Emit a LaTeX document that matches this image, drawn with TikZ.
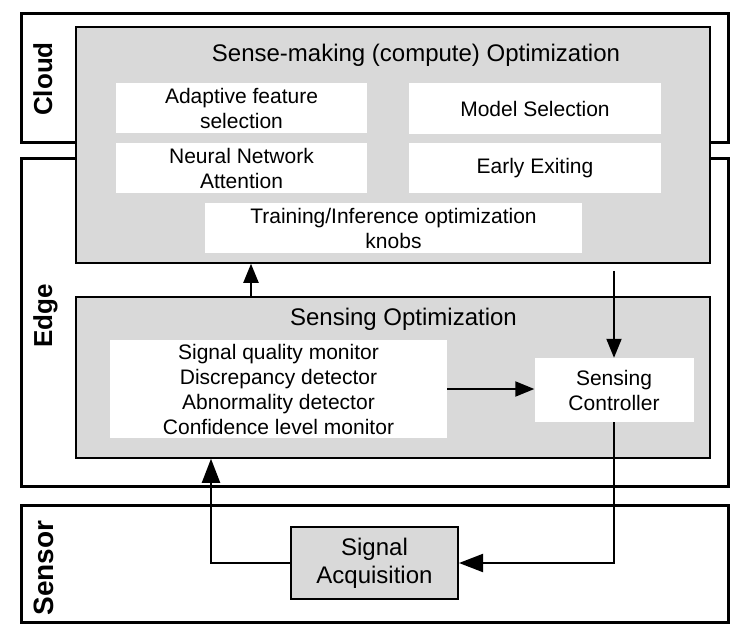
\documentclass[tikz,border=0pt]{standalone}
\usepackage{fontspec}
\setmainfont{Liberation Sans}
\usetikzlibrary{arrows.meta}

\definecolor{panelgray}{RGB}{217,217,217}

\tikzset{
	region/.style={draw,line width=3pt},
	panel/.style={draw,fill=panelgray,line width=1.5pt,inner sep=0pt},
	knob/.style={fill=white,align=center,inner sep=0pt,font=\fontsize{21}{25}\selectfont},
	tag/.style={rotate=90,anchor=base,font=\bfseries\fontsize{26}{30}\selectfont},
	title/.style={anchor=base,font=\fontsize{24}{28}\selectfont},
	flow/.style={line width=2pt,-{Triangle[length=19pt,width=15pt]}},
	bigtip/.style={-{Triangle[length=24pt,width=18pt]}}
}

\begin{document}
\begin{tikzpicture}[x=1pt,y=-1pt]
		\useasboundingbox (0,0) rectangle (747,642);
		% tiers
		\draw[region] (21,14) rectangle (728,142);
		\draw[region] (21,158) rectangle (728,486);
		\draw[region] (21,505) rectangle (728,622);
		\node[tag] (cloudtag) at (52,79) {Cloud};
		\node[tag] (edgetag) at (52,316) {Edge};
		\node[tag,font=\bfseries\fontsize{28}{32}\selectfont] (sensortag) at (53,568) {Sensor};
		% compute side
		\node[panel,minimum width=634pt,minimum height=236pt] (sense) at (393,145) {};
		\node[title] (sensetitle) at (416,62) {Sense-making (compute) Optimization};
		\node[knob,minimum width=251pt,minimum height=50pt] (adaptive) at (241.5,108) {Adaptive feature\\selection};
		\node[knob,minimum width=251pt,minimum height=50pt] (attention) at (241.5,168) {Neural Network\\Attention};
		\node[knob,minimum width=252pt,minimum height=51pt] (model) at (535,108.5) {Model Selection};
		\node[knob,minimum width=252pt,minimum height=50pt] (exiting) at (535,168) {Early Exiting};
		\node[knob,minimum width=377pt,minimum height=50pt] (knobs) at (393.5,228) {Training/Inference optimization\\knobs};
		% sensing side
		\node[panel,minimum width=634pt,minimum height=161pt] (sensing) at (393,377.5) {};
		\node[title] (sensingtitle) at (403.5,325) {Sensing Optimization};
		\node[knob,minimum width=337pt,minimum height=98pt] (monitors) at (278.5,389) {Signal quality monitor\\Discrepancy detector\\Abnormality detector\\Confidence level monitor};
		\node[knob,minimum width=159pt,minimum height=64pt] (ctrl) at (614,390) {Sensing\\Controller};
		\node[panel,line width=2pt,align=center,minimum width=167pt,minimum height=72pt,font=\fontsize{24}{28}\selectfont] (acq) at (374.5,563) {Signal\\Acquisition};
		% connectors
		\draw[flow] ([xshift=-142pt]sensing.north) -- ([xshift=-142pt]sensing.north |- sense.south);
		\draw[flow,shorten <=7pt] (ctrl.north |- sense.south) -- (ctrl.north);
		\draw[flow] (monitors.east) -- (ctrl.west |- monitors.east);
		\draw[flow,bigtip] (ctrl.south) |- (acq.east);
		\draw[flow,bigtip] (acq.west) -| ([xshift=-182pt]sensing.south);
	\end{tikzpicture}
\end{document}
